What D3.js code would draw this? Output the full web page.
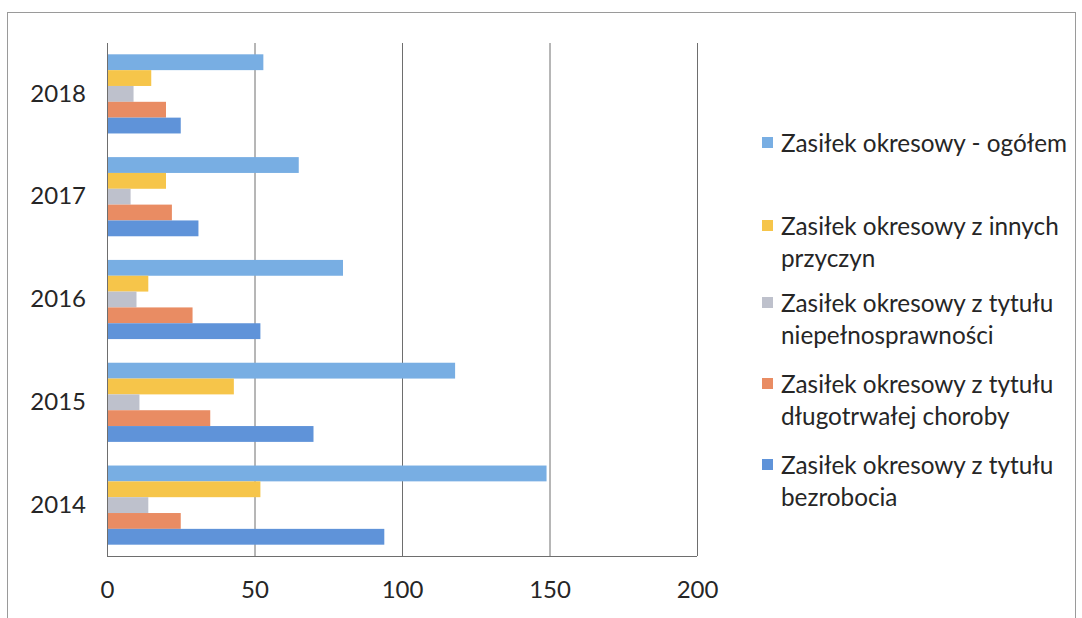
<!DOCTYPE html>
<html><head><meta charset="utf-8">
<script src="https://cdn.jsdelivr.net/npm/d3@7"></script>
<style>html,body{margin:0;padding:0;background:#fff;} svg{display:block;}</style>
</head><body>
<svg id="c" width="1082" height="618"></svg>
<script>
const years = ["2018", "2017", "2016", "2015", "2014"];
const seriesNames = [
  "Zasiłek okresowy - ogółem",
  "Zasiłek okresowy z innych przyczyn",
  "Zasiłek okresowy z tytułu niepełnosprawności",
  "Zasiłek okresowy z tytułu długotrwałej choroby",
  "Zasiłek okresowy z tytułu bezrobocia"
];
const legendLines = [
  ["Zasiłek okresowy - ogółem"],
  ["Zasiłek okresowy z innych", "przyczyn"],
  ["Zasiłek okresowy z tytułu", "niepełnosprawności"],
  ["Zasiłek okresowy z tytułu", "długotrwałej choroby"],
  ["Zasiłek okresowy z tytułu", "bezrobocia"]
];
// values per year, in order 2018..2014
const ogolem      = [53, 65, 80, 118, 149];
const innych      = [15, 20, 14, 43, 52];
const niepelnospr = [9, 8, 10, 11, 14];
const choroby     = [20, 22, 29, 35, 25];
const bezrobocia  = [25, 31, 52, 70, 94];
const seriesValues = [ogolem, innych, niepelnospr, choroby, bezrobocia];
const colors = ["#78aee3", "#f6c54a", "#bec1cc", "#e98c63", "#5f93d9"];
const xTicks = [0, 50, 100, 150, 200];

(function () {
const svg = d3.select("#c");
const font = "Lato, 'Open Sans', sans-serif";

// outer border
svg.append("rect").attr("x", 7.5).attr("y", 12.5).attr("width", 1068).attr("height", 640)
  .attr("fill", "none").attr("stroke", "#9a9a9a").attr("stroke-width", 1);

const pLeft = 107, pRight = 697, pTop = 43, pBottom = 556;
const x = d3.scaleLinear().domain([0, 200]).range([pLeft, pRight]);
const y0 = d3.scaleBand().domain(years).range([pTop, pBottom]).paddingInner(0.23).paddingOuter(0.11);
const y1 = d3.scaleBand().domain(d3.range(seriesNames.length)).range([0, y0.bandwidth()]);

// gridlines
svg.append("g").selectAll("line").data(xTicks).join("line")
  .attr("x1", d => x(d) + 0.5).attr("x2", d => x(d) + 0.5)
  .attr("y1", pTop).attr("y2", pBottom)
  .attr("stroke", "#6e6e6e").attr("stroke-width", 1);
// baseline
svg.append("line").attr("x1", pLeft).attr("x2", pRight).attr("y1", pBottom + 0.5).attr("y2", pBottom + 0.5)
  .attr("stroke", "#6e6e6e");

// bars
const g = svg.append("g");
years.forEach((yr, i) => {
  seriesValues.forEach((vals, s) => {
    g.append("rect")
      .attr("x", x(0) + 1)
      .attr("y", y0(yr) + y1(s))
      .attr("width", x(vals[i]) - x(0) - 1)
      .attr("height", y1.bandwidth())
      .attr("fill", colors[s]);
  });
});

// x axis labels
const xAxis = d3.axisBottom(x).tickValues(xTicks).tickSize(0).tickPadding(0);
const ax = svg.append("g").attr("transform", `translate(0,${pBottom + 25})`).call(xAxis);
ax.select(".domain").remove();
ax.selectAll("text").attr("font-family", font).attr("font-size", 24).attr("fill", "#262626")
  .attr("dy", "0.71em");

// y labels
const yAxis = d3.axisLeft(y0).tickSize(0).tickPadding(0);
const ay = svg.append("g").attr("transform", `translate(86,0)`).call(yAxis);
ay.select(".domain").remove();
ay.selectAll("text").attr("font-family", font).attr("font-size", 24).attr("fill", "#262626");

// legend
const legY = [143, 226, 303, 384, 465];
const lg = svg.append("g");
legendLines.forEach((lines, s) => {
  lg.append("rect").attr("x", 762).attr("y", legY[s] - 6).attr("width", 11).attr("height", 11)
    .attr("fill", colors[s]);
  lines.forEach((ln, k) => {
    lg.append("text").attr("x", 781).attr("y", legY[s] + k * 32)
      .attr("dy", "0.35em")
      .attr("font-family", font).attr("font-size", 24.3).attr("fill", "#262626")
      .text(ln);
  });
});
})();
</script>
</body></html>
